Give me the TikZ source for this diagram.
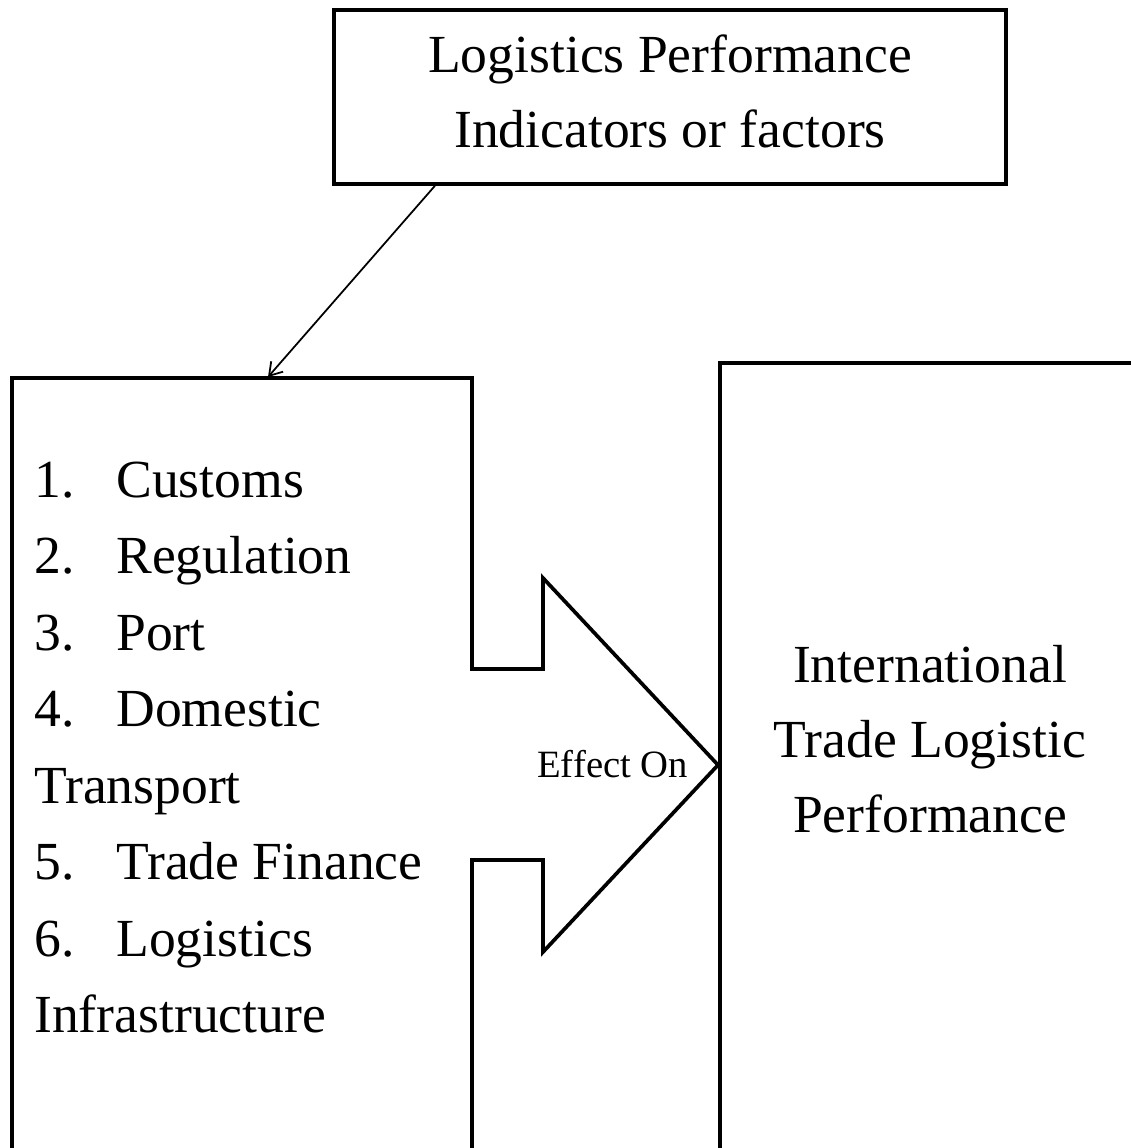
\documentclass[tikz,border=0pt]{standalone}
\usepackage{fontspec}
\setmainfont{Liberation Serif}
\usetikzlibrary{positioning,calc,arrows.meta}
\newcommand{\bigtext}{\fontsize{30.5}{42.5}\selectfont}
\newcommand{\smalltext}{\fontsize{22}{26}\selectfont}
\newcommand{\listtop}{497}
\newcommand{\listgap}{76.5}
\newcommand{\numx}{34}
\newcommand{\itemx}{116}

\begin{document}
\begin{tikzpicture}[x=0.02cm, y=-0.02cm,
    box/.style={draw, line width=2.1pt, inner sep=0pt},
    words/.style={inner sep=0pt, font=\bigtext},
    outline/.style={line width=2.1pt, line join=miter}]
  \useasboundingbox (0,0) rectangle (1131,1148);

  \node [box, words, align=center, minimum width=13.44cm, minimum height=3.48cm] (lpi)
        at (670,97) {Logistics Performance\\Indicators or factors\vphantom{g}};

  % left box with the block arrow cut out of its right side
  \draw [outline] (12,1160) -- (12,378) -- (472,378) -- (472,669) -- (543,669) -- (543,578)
                  -- (718,765) -- (543,952) -- (543,860) -- (472,860) -- (472,1160);

  % right box runs off the page
  \draw [outline] (720,1160) -- (720,363) -- (1160,363);

  \coordinate (inlet) at (268,377);
  \draw [-{Straight Barb[length=7pt,width=9pt]}, line width=1pt]
        ($(lpi.south west)!0.152!(lpi.south east)$) -- (inlet);

  \node [words, anchor=base west] (n1) at (\numx, \listtop) {1.};
  \node [words, anchor=base west] (f1) at (\itemx, \listtop) {Customs};
  \node [words, anchor=base west] (n2) at (\numx, \listtop + \listgap) {2.};
  \node [words, anchor=base west] (f2) at (\itemx, \listtop + \listgap) {Regulation};
  \node [words, anchor=base west] (n3) at (\numx, \listtop + 2*\listgap) {3.};
  \node [words, anchor=base west] (f3) at (\itemx, \listtop + 2*\listgap) {Port};
  \node [words, anchor=base west] (n4) at (\numx, \listtop + 3*\listgap) {4.};
  \node [words, anchor=base west] (f4) at (\itemx, \listtop + 3*\listgap) {Domestic};
  \node [words, anchor=base west] (f4b) at (\numx, \listtop + 4*\listgap) {Transport};
  \node [words, anchor=base west] (n5) at (\numx, \listtop + 5*\listgap) {5.};
  \node [words, anchor=base west] (f5) at (\itemx, \listtop + 5*\listgap) {Trade Finance};
  \node [words, anchor=base west] (n6) at (\numx, \listtop + 6*\listgap) {6.};
  \node [words, anchor=base west] (f6) at (\itemx, \listtop + 6*\listgap) {Logistics};
  \node [words, anchor=base west] (f6b) at (\numx, \listtop + 7*\listgap) {Infrastructure};

  \node [inner sep=0pt, font=\smalltext, anchor=base west] (effect) at (537,777) {Effect On};

  \node [words, align=center] (itlp) at (930,739) {International\\Trade Logistic\\Performance};
\end{tikzpicture}
\end{document}
